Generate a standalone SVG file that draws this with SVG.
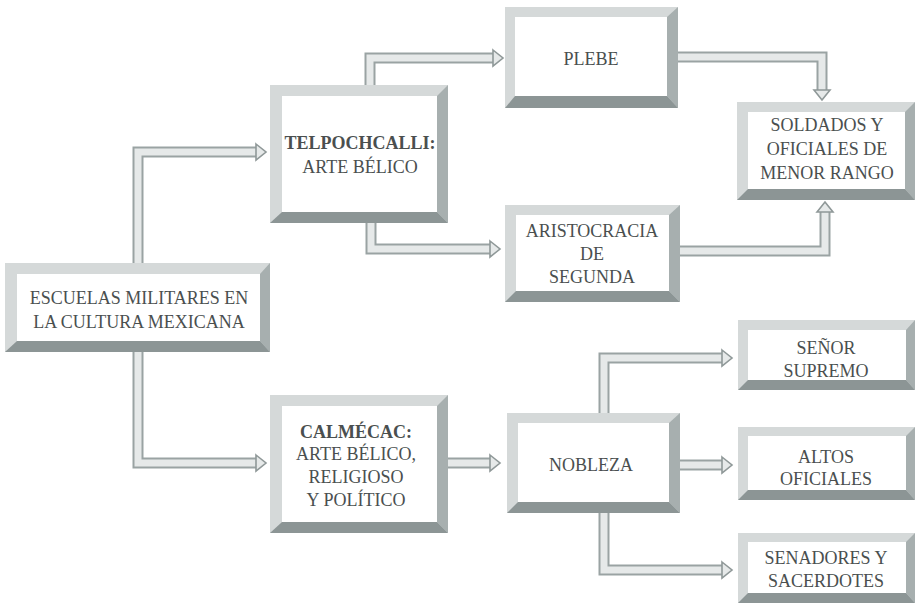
<svg xmlns="http://www.w3.org/2000/svg" width="918" height="603" viewBox="0 0 918 603">
<style>
.fr{fill:#d5d9d9}
.rs{fill:#a7afaf}
.bs{fill:#8c9595}
.in{fill:#ffffff}
.t{font-family:"Liberation Serif","DejaVu Serif",serif;font-size:18px;fill:#4a4f4f;text-anchor:middle}
.b{font-weight:bold}
.so{fill:none;stroke:#9aa3a3;stroke-width:11;stroke-linejoin:miter}
.si{fill:none;stroke:#e6e9e9;stroke-width:7;stroke-linejoin:miter}
.ah{fill:#e6e9e9;stroke:#8f9898;stroke-width:1.6;stroke-linejoin:miter}
</style>
<rect width="918" height="603" fill="#ffffff"/>
<g id="connectors">
<path class="so" d="M138,263 V152 H258"/>
<path class="si" d="M138,263 V152 H258"/>
<polygon class="ah" points="256,144 266,152 256,160"/>
<path class="so" d="M138,352 V463 H258"/>
<path class="si" d="M138,352 V463 H258"/>
<polygon class="ah" points="256,455 266,463 256,471"/>
<path class="so" d="M370,85 V58 H495"/>
<path class="si" d="M370,85 V58 H495"/>
<polygon class="ah" points="493,50 503,58 493,66"/>
<path class="so" d="M371,223 V249 H492"/>
<path class="si" d="M371,223 V249 H492"/>
<polygon class="ah" points="490,241 500,249 490,257"/>
<path class="so" d="M678,57 H822 V92"/>
<path class="si" d="M678,57 H822 V92"/>
<polygon class="ah" points="814,90 822,100 830,90"/>
<path class="so" d="M680,251 H825 V210"/>
<path class="si" d="M680,251 H825 V210"/>
<polygon class="ah" points="817,212 825,202 833,212"/>
<path class="so" d="M448,463 H492"/>
<path class="si" d="M448,463 H492"/>
<polygon class="ah" points="490,455 500,463 490,471"/>
<path class="so" d="M604,413 V358 H724"/>
<path class="si" d="M604,413 V358 H724"/>
<polygon class="ah" points="722,350 732,358 722,366"/>
<path class="so" d="M680,465 H724"/>
<path class="si" d="M680,465 H724"/>
<polygon class="ah" points="722,457 732,465 722,473"/>
<path class="so" d="M604,513 V570 H724"/>
<path class="si" d="M604,513 V570 H724"/>
<polygon class="ah" points="722,562 732,570 722,578"/>
</g>
<g id="escuelas">
<rect class="fr" x="5" y="263" width="265" height="89"/>
<polygon class="rs" points="260,274 270,263 270,352 260,341"/>
<polygon class="bs" points="5,352 17,341 260,341 270,352"/>
<rect class="in" x="17" y="274" width="243" height="67"/>
<text class="t" x="139" y="304">ESCUELAS MILITARES EN</text>
<text class="t" x="139" y="328">LA CULTURA MEXICANA</text>
</g>
<g id="telpochcalli">
<rect class="fr" x="270" y="85" width="178" height="138"/>
<polygon class="rs" points="437,96 448,85 448,223 437,212"/>
<polygon class="bs" points="270,223 282,212 437,212 448,223"/>
<rect class="in" x="282" y="96" width="155" height="116"/>
<text class="t b" x="360" y="149">TELPOCHCALLI:</text>
<text class="t" x="360" y="173">ARTE BÉLICO</text>
</g>
<g id="plebe">
<rect class="fr" x="505" y="7" width="173" height="101"/>
<polygon class="rs" points="667,17 678,7 678,108 667,96"/>
<polygon class="bs" points="505,108 515,96 667,96 678,108"/>
<rect class="in" x="515" y="17" width="152" height="79"/>
<text class="t" x="591" y="65">PLEBE</text>
</g>
<g id="aristocracia">
<rect class="fr" x="505" y="205" width="175" height="97"/>
<polygon class="rs" points="669,215 680,205 680,302 669,291"/>
<polygon class="bs" points="505,302 516,291 669,291 680,302"/>
<rect class="in" x="516" y="215" width="153" height="76"/>
<text class="t" x="592" y="237">ARISTOCRACIA</text>
<text class="t" x="592" y="260">DE</text>
<text class="t" x="592" y="283">SEGUNDA</text>
</g>
<g id="soldados">
<rect class="fr" x="737" y="102" width="178" height="98"/>
<polygon class="rs" points="905,112 915,102 915,200 905,189"/>
<polygon class="bs" points="737,200 748,189 905,189 915,200"/>
<rect class="in" x="748" y="112" width="157" height="77"/>
<text class="t" x="827" y="131">SOLDADOS Y</text>
<text class="t" x="827" y="155">OFICIALES DE</text>
<text class="t" x="827" y="179">MENOR RANGO</text>
</g>
<g id="calmecac">
<rect class="fr" x="270" y="395" width="178" height="138"/>
<polygon class="rs" points="437,406 448,395 448,533 437,522"/>
<polygon class="bs" points="270,533 282,522 437,522 448,533"/>
<rect class="in" x="282" y="406" width="155" height="116"/>
<text class="t b" x="356" y="438">CALMÉCAC:</text>
<text class="t" x="356" y="460">ARTE BÉLICO,</text>
<text class="t" x="356" y="483">RELIGIOSO</text>
<text class="t" x="356" y="506">Y POLÍTICO</text>
</g>
<g id="nobleza">
<rect class="fr" x="507" y="413" width="173" height="100"/>
<polygon class="rs" points="669,423 680,413 680,513 669,502"/>
<polygon class="bs" points="507,513 518,502 669,502 680,513"/>
<rect class="in" x="518" y="423" width="151" height="79"/>
<text class="t" x="591" y="471">NOBLEZA</text>
</g>
<g id="senor">
<rect class="fr" x="738" y="320" width="177" height="70"/>
<polygon class="rs" points="906,330 915,320 915,390 906,380"/>
<polygon class="bs" points="738,390 748,380 906,380 915,390"/>
<rect class="in" x="748" y="330" width="158" height="50"/>
<text class="t" x="826" y="354">SEÑOR</text>
<text class="t" x="826" y="377">SUPREMO</text>
</g>
<g id="altos">
<rect class="fr" x="738" y="427" width="177" height="73"/>
<polygon class="rs" points="906,436 915,427 915,500 906,490"/>
<polygon class="bs" points="738,500 748,490 906,490 915,500"/>
<rect class="in" x="748" y="436" width="158" height="54"/>
<text class="t" x="826" y="463">ALTOS</text>
<text class="t" x="826" y="485">OFICIALES</text>
</g>
<g id="senadores">
<rect class="fr" x="738" y="533" width="177" height="70"/>
<polygon class="rs" points="906,542 915,533 915,603 906,593"/>
<polygon class="bs" points="738,603 748,593 906,593 915,603"/>
<rect class="in" x="748" y="542" width="158" height="51"/>
<text class="t" x="826" y="564">SENADORES Y</text>
<text class="t" x="826" y="587">SACERDOTES</text>
</g>
</svg>
